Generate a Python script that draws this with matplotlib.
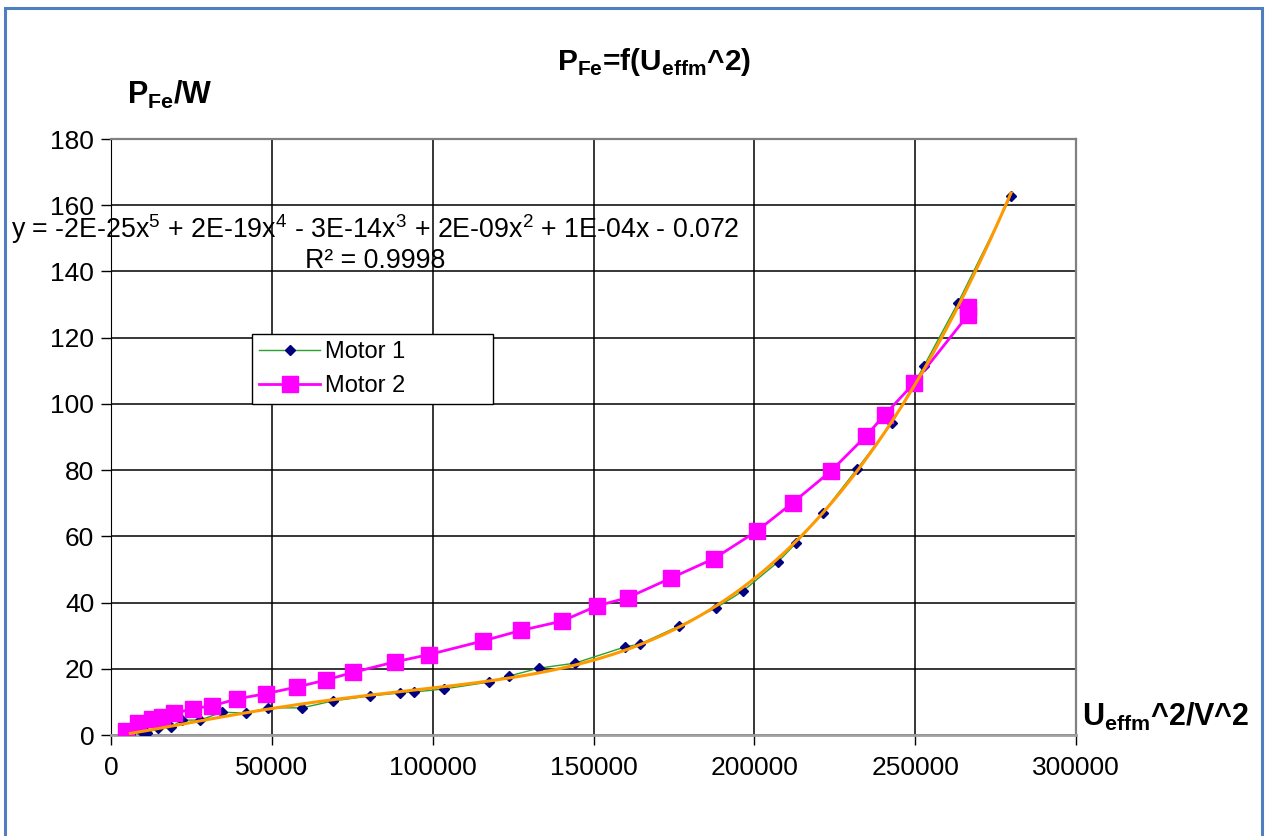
import numpy as np
import matplotlib
matplotlib.use("Agg")
import matplotlib.pyplot as plt
from matplotlib.patches import Rectangle

plt.rcParams["font.family"] = ["Liberation Sans", "DejaVu Sans"]
plt.rcParams["mathtext.fontset"] = "custom"
plt.rcParams["mathtext.rm"] = "Liberation Sans"
plt.rcParams["mathtext.bf"] = "Liberation Sans:bold"

# Motor 1: U_effm^2 / V^2 vs P_Fe / W
motor1_x = [6000, 9900, 11200, 14600, 18700, 22100, 27700, 34500, 42000, 48800,
            59400, 69000, 80500, 89800, 94200, 103500, 117500, 123700, 133100,
            144200, 159800, 164500, 176600, 188100, 196500, 207400, 213000,
            221300, 231900, 242800, 252700, 263300, 279800]
motor1_y = [0.4, 0.6, 0.6, 2.1, 2.4, 4.5, 4.5, 6.9, 6.6, 8.2,
            8.2, 10.3, 11.8, 12.7, 13.0, 13.9, 16.0, 17.8, 20.2,
            21.7, 26.6, 27.5, 32.9, 38.4, 43.5, 52.3, 58.0,
            67.1, 80.3, 94.2, 111.4, 130.5, 162.8]

# Motor 2
motor2_x = [4700, 8400, 12700, 15900, 19600, 25500, 31400, 39200, 48200, 57800,
            66800, 75200, 88300, 98900, 115600, 127500, 140200, 151100, 160700,
            174100, 187500, 200800, 212000, 223800, 234700, 240600, 249600,
            266400, 266400]
motor2_y = [1.2, 3.6, 4.7, 5.4, 6.5, 8.0, 8.8, 10.9, 12.5, 14.5,
            16.6, 18.9, 22.1, 24.3, 28.4, 31.6, 34.4, 39.0, 41.5,
            47.4, 53.3, 61.6, 70.2, 79.7, 90.3, 96.8, 106.2,
            126.8, 129.3]

x_ticks = [0, 50000, 100000, 150000, 200000, 250000, 300000]
y_ticks = [0, 20, 40, 60, 80, 100, 120, 140, 160, 180]

fig = plt.figure(figsize=(12.66, 8.36), dpi=100)
ax = fig.add_axes([0.0877, 0.1208, 0.7622, 0.7129])

# blue outer frame
fig.patches.append(Rectangle((0.004, -0.05), 0.993, 1.041, transform=fig.transFigure,
                             fill=False, edgecolor="#4f7fc0", linewidth=2.2))

# polynomial trendline (order 5) of motor 1
mx = np.array(motor1_x, dtype=float)
my = np.array(motor1_y, dtype=float)
coef = np.polyfit(mx / 1e5, my, 5)
xs = np.linspace(mx.min(), mx.max(), 300)
ys = np.polyval(coef, xs / 1e5)

ax.plot(motor1_x, motor1_y, color="#2ca02c", linewidth=1.0, marker="D",
        markersize=5, markerfacecolor="#000080", markeredgecolor="#000080",
        label="Motor 1", zorder=3)
ax.plot(motor2_x, motor2_y, color="#ff00ff", linewidth=2.0, marker="s",
        markersize=12, markerfacecolor="#ff00ff", markeredgecolor="#ff00ff",
        label="Motor 2", zorder=4)
ax.plot(xs, ys, color="#ff9900", linewidth=2.2, zorder=5)

ax.set_xlim(0, 300000)
ax.set_ylim(0, 180)
ax.set_xticks(x_ticks)
ax.set_yticks(y_ticks)
ax.set_xticklabels([str(v) for v in x_ticks])
ax.grid(True, color="black", linewidth=1.1)
ax.set_axisbelow(True)
ax.tick_params(axis="both", labelsize=19, length=7, width=1, direction="out")
ax.tick_params(axis="x", pad=8)
ax.tick_params(axis="y", pad=5)
for side in ["top", "right"]:
    ax.spines[side].set_color("#808080")
    ax.spines[side].set_linewidth(1.6)
ax.spines["bottom"].set_color("#a0a0a0")
ax.spines["bottom"].set_linewidth(2)
ax.spines["left"].set_color("black")

leg = ax.legend(loc="upper left", bbox_to_anchor=(0.146, 0.559, 0.25, 0.114),
                mode="expand", fontsize=17,
                frameon=True, fancybox=False, framealpha=1, edgecolor="black",
                borderpad=0.3, handlelength=2.6, handletextpad=0.2,
                labelspacing=0.5, borderaxespad=0)
leg.get_frame().set_linewidth(1.0)

fig.text(0.296, 0.726, "y = -2E-25x$^5$ + 2E-19x$^4$ - 3E-14x$^3$ + 2E-09x$^2$ + 1E-04x - 0.072",
         ha="center", va="center", fontsize=19.3)
fig.text(0.296, 0.688, "R² = 0.9998", ha="center", va="center", fontsize=19.3)

fig.text(0.517, 0.926, r"P$_{\mathbf{Fe}}$=f(U$_{\mathbf{effm}}$^2)", ha="center",
         va="center", fontsize=21.5, fontweight="bold")
fig.text(0.100, 0.886, r"P$_{\mathbf{Fe}}$/W", ha="left", va="center",
         fontsize=22, fontweight="bold")
fig.text(0.855, 0.143, r"U$_{\mathbf{effm}}$^2/V^2", ha="left", va="center",
         fontsize=22, fontweight="bold")

fig.savefig("out.png", dpi=100)
